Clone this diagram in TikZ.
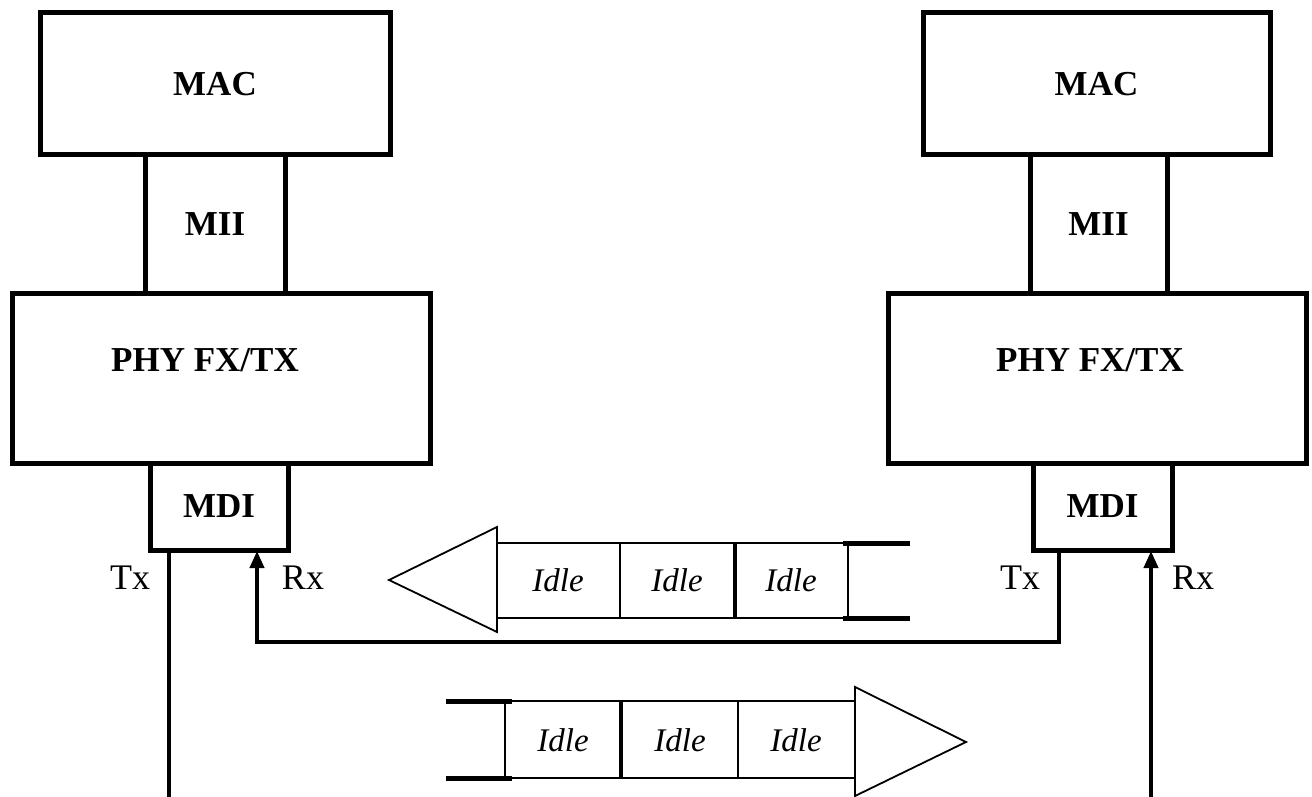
\documentclass[tikz,border=0pt]{standalone}
\usepackage{fontspec}
\setmainfont{Liberation Serif}
\usetikzlibrary{arrows.meta}
\begin{document}
\begin{tikzpicture}[x=1pt,y=-1pt,
  box/.style={draw, line width=5pt, rectangle, inner sep=0pt, font=\fontsize{35}{40}\selectfont\bfseries},
  lbl/.style={inner sep=0pt, font=\fontsize{35}{40}\selectfont\bfseries},
  pinlbl/.style={inner sep=0pt, font=\fontsize{36}{40}\selectfont},
  idle/.style={inner sep=0pt, font=\fontsize{33}{40}\selectfont\itshape},
  wire/.style={line width=4pt},
  rxarrow/.style={-{Triangle[length=17pt,width=14pt]}},
  pkt/.style={line width=1.8pt},
  heavy/.style={line width=4pt},
  stub/.style={line width=5pt}
]
\useasboundingbox[fill=white] (0,0) rectangle (1312,797);

% left station
\node[box, minimum width=350, minimum height=142] (macL) at (215,84) {MAC};
\node[box, minimum width=140, minimum height=138] (miiL) at (215,224) {MII};
\node[box, minimum width=418, minimum height=170] (phyL) at (221,378) {};
\node[lbl] (phyLtext) at (205,360) {PHY FX/TX};
\node[box, minimum width=138, minimum height=87] (mdiL) at (219,506.5) {MDI};

% right station
\node[box, minimum width=347, minimum height=142] (macR) at (1096.5,84) {MAC};
\node[box, minimum width=137, minimum height=138] (miiR) at (1098.5,224) {MII};
\node[box, minimum width=418, minimum height=170] (phyR) at (1097,378) {};
\node[lbl] (phyRtext) at (1090,360) {PHY FX/TX};
\node[box, minimum width=139, minimum height=87] (mdiR) at (1102.5,506.5) {MDI};

% pin labels
\node[pinlbl] (txLlbl) at (130,578) {Tx};
\node[pinlbl] (rxLlbl) at (303,578) {Rx};
\node[pinlbl] (txRlbl) at (1020,578) {Tx};
\node[pinlbl] (rxRlbl) at (1193,578) {Rx};

% wires
\coordinate (txLtop) at (169,550);
\coordinate (txLend) at (169,797);
\coordinate (rxLtop) at (257,551);
\coordinate (loopL) at (257,642);
\coordinate (txRtop) at (1059,550);
\coordinate (loopR) at (1059,642);
\coordinate (rxRtop) at (1151,551);
\coordinate (rxRend) at (1151,797);

\draw[wire] (txLtop) -- (txLend);
\draw[wire, rxarrow] (txRtop) -- (loopR) -- (loopL) -- (rxLtop);
\draw[wire, rxarrow] (rxRend) -- (rxRtop);

% upper packet stream (to the left)
\draw[pkt, fill=white] (497,527) -- (389,580) -- (497,632) -- cycle;
\draw[pkt] (497,543) -- (910,543);
\draw[pkt] (497,618) -- (910,618);
\draw[pkt] (620,543) -- (620,618);
\draw[heavy] (735,543) -- (735,618);
\draw[pkt] (848,543) -- (848,618);
\draw[stub] (843,543) -- (910,543);
\draw[stub] (843,618) -- (910,618);
\node[idle] (iu1) at (558,580) {Idle};
\node[idle] (iu2) at (677,580) {Idle};
\node[idle] (iu3) at (791,580) {Idle};

% lower packet stream (to the right)
\draw[stub] (446,701) -- (512,701);
\draw[stub] (446,778) -- (512,778);
\draw[pkt] (505,701) -- (505,778);
\draw[pkt] (505,701) -- (855,701);
\draw[pkt] (505,778) -- (855,778);
\draw[heavy] (621,701) -- (621,778);
\draw[pkt] (738,701) -- (738,778);
\draw[pkt, fill=white] (855,687) -- (966,742) -- (855,796) -- cycle;
\node[idle] (il1) at (563,740) {Idle};
\node[idle] (il2) at (680,740) {Idle};
\node[idle] (il3) at (796,740) {Idle};
\end{tikzpicture}
\end{document}
